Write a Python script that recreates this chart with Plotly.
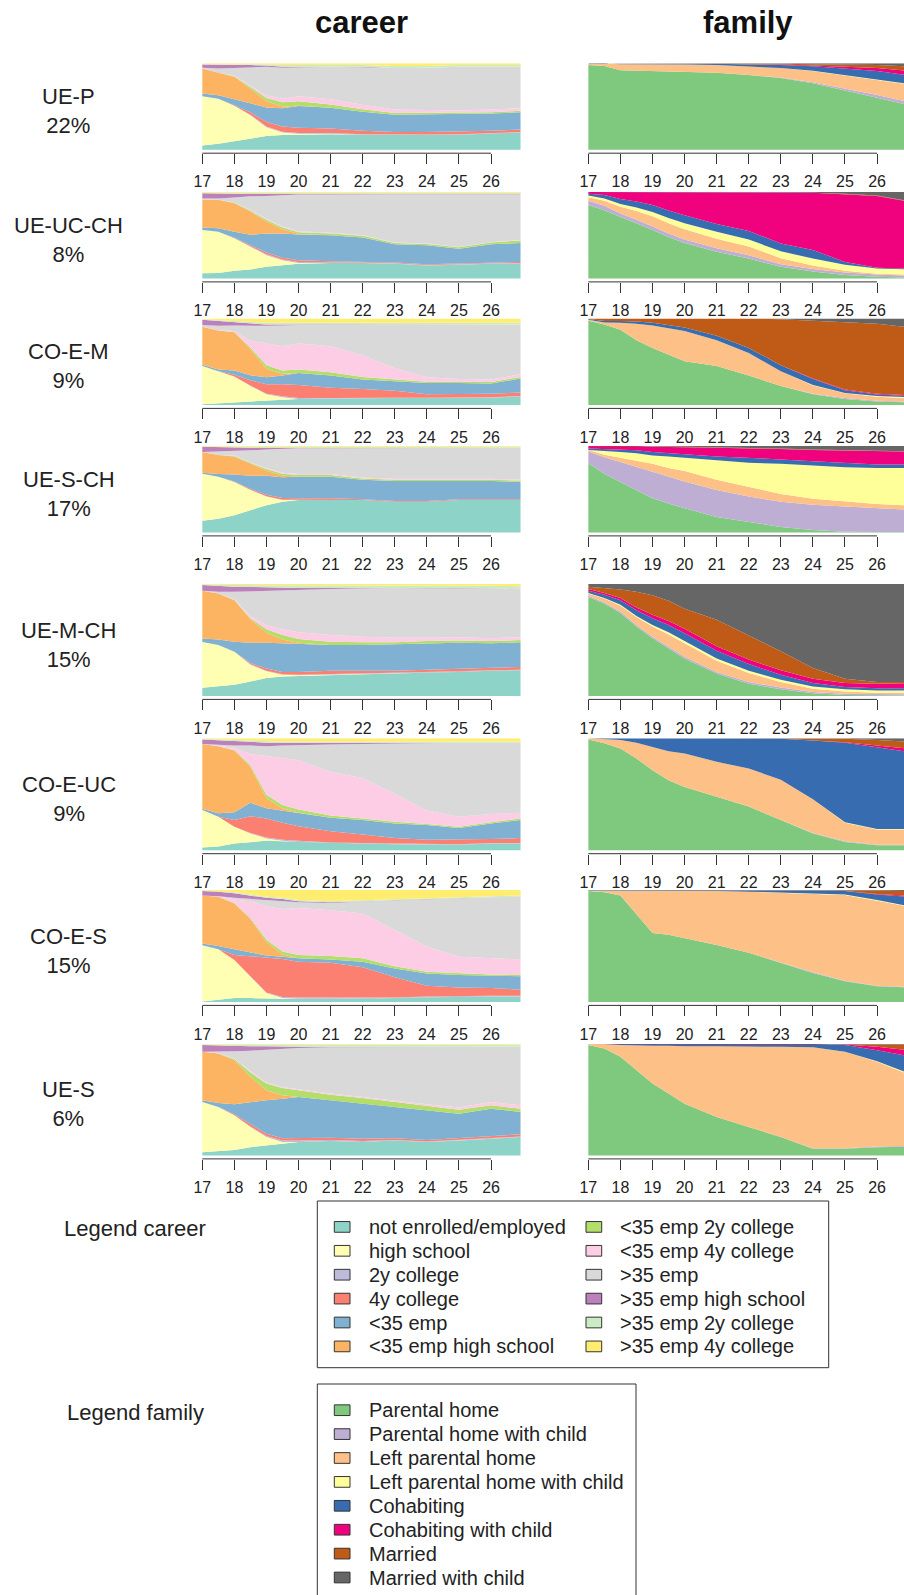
import plotly.graph_objects as go

W, H = 904, 1595
FONT = "Liberation Sans, Arial, Helvetica, sans-serif"
TXT = "#222222"
AXC = "#333333"

# ---------------- data ----------------
AGES = [17, 17.5, 18, 18.5, 19, 19.5, 20, 21, 22, 23, 24, 25, 26, 26.92]
TICK_AGES = [17, 18, 19, 20, 21, 22, 23, 24, 25, 26]
TICK_LABELS = ["17", "18", "19", "20", "21", "22", "23", "24", "25", "26"]

CAREER_STATES = ["not enrolled/employed", "high school", "2y college", "4y college",
                 "<35 emp", "<35 emp high school", "<35 emp 2y college", "<35 emp 4y college",
                 ">35 emp", ">35 emp high school", ">35 emp 2y college", ">35 emp 4y college"]
CAREER_COLORS = ["#8DD3C7", "#FFFFB3", "#BEBADA", "#FB8072", "#80B1D3", "#FDB462",
                 "#B3DE69", "#FCCDE5", "#D9D9D9", "#BC80BD", "#CCEBC5", "#FFED6F"]
FAMILY_STATES = ["Parental home", "Parental home with child", "Left parental home",
                 "Left parental home with child", "Cohabiting", "Cohabiting with child",
                 "Married", "Married with child"]
FAMILY_COLORS = ["#7FC97F", "#BEAED4", "#FDC086", "#FFFF99", "#386CB0", "#F0027F",
                 "#BF5B17", "#666666"]

CLUSTER_NAMES = ["UE-P", "UE-UC-CH", "CO-E-M", "UE-S-CH", "UE-M-CH", "CO-E-UC", "CO-E-S", "UE-S"]
CLUSTER_SIZES = ["22%", "8%", "9%", "17%", "15%", "9%", "15%", "6%"]

# shares (%) per state (rows follow CAREER_STATES / FAMILY_STATES), per age in AGES
CAREER_UE_P = [
    [5, 7, 10, 13, 16, 17, 17.5, 18, 17.5, 17, 17, 17.5, 18.5, 20],
    [57, 52, 41, 27, 10, 3, 1, 0.5, 0, 0, 0, 0, 0, 0],
    [0, 0, 0, 0.5, 1, 1, 1, 1, 0.5, 0.5, 0.5, 0.5, 0.5, 0.5],
    [0, 0, 0.5, 3, 5, 6, 6, 5, 4, 3, 3, 3, 3, 3],
    [3, 4, 7, 10, 17, 21, 25, 24, 22, 20, 20, 20, 20, 20],
    [29, 26, 26, 17, 7, 2, 0.5, 0, 0, 0, 0, 0, 0, 0],
    [0, 0, 0.5, 2, 4, 5, 5, 4, 3, 2, 2, 1.5, 1.5, 1.5],
    [0, 0, 0.5, 2, 3, 4, 6, 6, 5, 4, 3, 3, 3, 3],
    [1, 5, 9, 21, 33, 36, 33.5, 37.5, 43.5, 48.5, 48.5, 50.5, 49.5, 48],
    [3.5, 4, 3.5, 2.5, 1.5, 1, 0.5, 0.5, 0.5, 0, 0, 0, 0, 0],
    [0.5, 1, 1, 1, 1.5, 2, 2, 2, 2, 2, 2, 2, 2, 2],
    [1, 1, 1, 1, 1, 2, 2, 1.5, 2, 3, 3, 2, 2, 2],
]
FAMILY_UE_P = [
    [98, 97, 92, 91.5, 91, 90.5, 90, 89, 86.5, 83, 77, 69, 60, 52],
    [0, 0, 0, 0, 0, 0, 0, 0, 0, 0.5, 1, 2, 3, 3.5],
    [2, 3, 7, 7.5, 8, 8, 8.5, 9, 10, 11, 13, 15, 18, 20],
    [0, 0, 0, 0, 0, 0, 0, 0, 0, 0, 0.5, 0.5, 0.5, 0.5],
    [0, 0, 0.5, 0.5, 0.5, 1, 1, 1.5, 2, 3.5, 5, 7, 9, 10],
    [0, 0, 0, 0, 0, 0, 0, 0, 0, 0.5, 1, 2.5, 3.5, 5],
    [0, 0, 0.5, 0.5, 0.5, 0.5, 0.5, 0.5, 1, 1, 1.5, 2.5, 3.5, 5],
    [0, 0, 0, 0, 0, 0, 0, 0, 0.5, 0.5, 1, 1.5, 2, 3.5],
]
CAREER_UE_UC_CH = [
    [6, 6.5, 9, 10.5, 13.5, 15.5, 17, 18, 18, 17, 15, 16, 17, 17],
    [50, 47.5, 37.5, 26.5, 13.5, 5.5, 1, 0, 0, 0, 0, 0, 0, 0],
    [0, 0, 0, 0.5, 1, 1, 1, 0.5, 0.5, 0.5, 0.5, 0.5, 0.5, 0.5],
    [0, 0, 0.5, 1, 2, 2, 2, 1.5, 1, 1, 1, 1, 1, 1.5],
    [3, 4, 7, 12, 22, 28, 30, 30, 28, 21, 22, 17, 21, 22],
    [32, 33, 33, 27, 14, 5, 0.5, 0, 0, 0, 0, 0, 0, 0],
    [0, 0, 0.5, 1, 2, 2, 2, 2, 2, 1.5, 1.5, 1.5, 2, 3],
    [0, 0, 0.5, 1, 1, 1, 1, 1, 0.5, 0.5, 0.5, 0.5, 0.5, 0.5],
    [1.5, 1.5, 5.5, 15.5, 26.5, 36.5, 42.5, 44, 47.5, 56, 57, 61, 55.5, 53],
    [6, 5.5, 4.5, 3, 2.5, 1.5, 1, 1, 0.5, 0.5, 0.5, 0.5, 0.5, 0.5],
    [0.5, 1, 1, 1, 1, 1, 1, 1, 1, 1, 1, 1, 1, 1],
    [1, 1, 1, 1, 1, 1, 1, 1, 1, 1, 1, 1, 1, 1],
]
FAMILY_UE_UC_CH = [
    [85, 79, 71, 64, 56, 48, 41, 31, 23, 13.5, 8, 4, 2, 1],
    [5, 5, 4, 4, 4, 4, 4, 4, 4, 3, 3, 3, 2.5, 2.5],
    [4, 6, 8, 10, 12, 12, 12, 11, 10, 7, 4, 2, 1, 1],
    [2, 2.5, 3, 4, 5, 6, 7, 8, 8, 8, 8, 7, 6, 6],
    [2, 4, 6, 7, 8, 8.5, 9, 9, 10, 9, 10, 3, 1, 1],
    [2, 3.5, 8, 11, 15, 21.5, 27, 37, 45, 59, 66, 78.5, 83, 78],
    [0, 0, 0, 0, 0, 0, 0, 0, 0, 0, 0, 0.5, 0.5, 0.5],
    [0, 0, 0, 0, 0, 0, 0, 0, 0, 0.5, 1, 2, 4, 10],
]
CAREER_CO_E_M = [
    [1, 2, 3, 4, 5, 6, 7, 7.5, 8, 8, 8, 8, 8.5, 10],
    [44, 37, 30, 18, 7.5, 3, 0, 0, 0, 0, 0, 0, 0, 0],
    [0, 0, 0, 0.5, 0.5, 1, 1, 0.5, 0.5, 0.5, 0.5, 0.5, 0.5, 0.5],
    [0, 0, 2, 6, 11, 14, 15, 12, 10, 8, 4, 4, 4, 4],
    [1.5, 2, 5, 6, 8, 10, 14, 14, 11, 11, 13, 13, 12, 16],
    [44, 45, 44, 30, 10, 2, 0, 0, 0, 0, 0, 0, 0, 0],
    [0, 0, 0.5, 2, 4, 4, 4, 4, 3, 2, 1.5, 1.5, 1.5, 2],
    [0, 0.5, 1, 8, 25, 28, 30, 30, 25, 13, 5, 3, 3, 3],
    [2, 5, 6.5, 17, 20.5, 24, 21.5, 24.5, 35, 50.5, 61, 63, 63.5, 57.5],
    [6, 5.5, 4, 3, 1.5, 1, 0.5, 0.5, 0.5, 0, 0, 0, 0, 0],
    [0.5, 1, 1, 1.5, 2, 2, 2, 2, 2, 2, 2, 2, 2, 2],
    [1, 2, 3, 4, 5, 5, 5, 5, 5, 5, 5, 5, 5, 5],
]
FAMILY_CO_E_M = [
    [97.5, 93, 87, 75, 66, 58, 50.5, 45, 34, 22, 12.5, 7, 4, 3],
    [0, 0, 0, 0, 0, 0, 0, 0, 0, 0, 0.5, 1, 1, 1],
    [1, 2.5, 8, 19, 26, 31, 35, 30, 26, 17, 9.5, 5.5, 4.5, 4],
    [0, 0, 0, 0, 0, 0, 0, 0, 0, 0, 0.5, 0.5, 1, 1],
    [1, 1.5, 2, 2.5, 3, 3.5, 4, 5, 6, 7, 7, 3, 1.5, 1.5],
    [0, 0, 0, 0, 0, 0, 0, 0, 0, 0, 0.5, 1, 1, 1],
    [0.5, 3, 3, 3.5, 5, 7.5, 10.5, 20, 34, 53, 67, 78, 81, 78.5],
    [0, 0, 0, 0, 0, 0, 0, 0, 0, 1, 2.5, 4, 6, 10],
]
CAREER_UE_S_CH = [
    [13.5, 16, 20, 26, 31.5, 35.5, 37.5, 38, 37.5, 35.5, 35.5, 37.5, 37.5, 37.5],
    [54.5, 48.5, 38.5, 23, 10, 2, 0, 0, 0, 0, 0, 0, 0, 0],
    [0, 0, 0, 0.5, 0.5, 0.5, 0.5, 0, 0, 0, 0, 0, 0, 0],
    [0, 0, 0.5, 1, 1.5, 2, 1.5, 1.5, 1, 1, 1, 1, 1, 1],
    [1, 3, 8, 15, 22, 24, 25, 25, 22.5, 23, 23, 21, 21, 20],
    [24, 22, 21, 14, 6, 2, 0, 0, 0, 0, 0, 0, 0, 0],
    [0, 0, 0.5, 1, 2, 2, 2, 2, 1.5, 1.5, 1.5, 1.5, 1.5, 1.5],
    [0, 0, 0.5, 0.5, 1, 1, 1, 1, 1, 1, 1, 1, 1, 1],
    [0, 4, 5.5, 14, 21.5, 28, 30, 30, 34, 35.5, 36, 36, 36, 37],
    [6, 5, 4, 3, 2, 1, 0.5, 0.5, 0.5, 0.5, 0, 0, 0, 0],
    [0.5, 0.5, 0.5, 1, 1, 1, 1, 1, 1, 1, 1, 1, 1, 1],
    [0.5, 1, 1, 1, 1, 1, 1, 1, 1, 1, 1, 1, 1, 1],
]
FAMILY_UE_S_CH = [
    [80, 68, 58.5, 49, 39.5, 33.5, 28, 18, 12.5, 6.5, 3, 1, 0.5, 0.5],
    [13.5, 19, 23, 27, 31, 31, 31, 31, 29, 29, 29, 29, 27.5, 26],
    [2, 3, 5, 7, 9, 10, 12, 12, 11, 9, 7, 6, 5, 5],
    [0, 4.5, 6.5, 8.5, 9.5, 13.5, 15.5, 22, 28, 35, 38.5, 39.5, 41.5, 43],
    [1.5, 2, 3, 3.5, 4, 4, 4, 5, 6, 5, 5, 5, 4, 4],
    [3, 3.5, 4, 5, 6, 7, 8, 10, 11, 12, 13, 14, 15, 15],
    [0, 0, 0, 0, 0.5, 0.5, 0.5, 0.5, 0.5, 0.5, 0.5, 0.5, 0.5, 0.5],
    [0, 0, 0, 0, 0.5, 0.5, 1, 1.5, 2, 3, 4, 5, 6, 6],
]
CAREER_UE_M_CH = [
    [7.5, 8.5, 10, 13, 16, 17.5, 18, 19, 19.5, 20, 21, 21.5, 22.5, 23],
    [41, 37, 29.5, 15, 6, 1.5, 0.5, 0, 0, 0, 0, 0, 0, 0],
    [0, 0, 0, 0.5, 0.5, 0.5, 0.5, 0.5, 0.5, 0.5, 0.5, 0.5, 0.5, 0.5],
    [0, 0, 0, 1, 2, 2, 2.5, 3, 2.5, 2, 2, 2.5, 2, 2.5],
    [3, 5, 9, 18, 23, 25.5, 25.5, 23, 23, 23.5, 23.5, 23, 22, 22],
    [43, 41, 37, 21, 9, 3.5, 0.5, 0, 0, 0, 0, 0, 0, 0],
    [0, 0, 0.5, 1, 3, 4, 3.5, 3, 2.5, 2, 2, 2, 2, 2],
    [0, 0, 0.5, 2, 4, 5, 6, 6, 5, 4, 3, 3, 2.5, 2.5],
    [0, 1.5, 6.5, 22, 30.5, 35, 38, 41, 43, 44.5, 44.5, 44, 45, 43.5],
    [5, 5, 4.5, 4, 3, 2.5, 1.5, 1, 0.5, 0, 0, 0, 0, 0],
    [0.5, 1, 1.5, 1.5, 2, 2, 2, 2, 2, 2, 2, 2, 2, 2],
    [0.5, 1, 1, 1, 1, 1, 1.5, 1.5, 1.5, 1.5, 1.5, 1.5, 1.5, 2],
]
FAMILY_UE_M_CH = [
    [88.5, 82.5, 74, 62, 51.5, 42.5, 33.5, 20, 11, 6, 2.5, 1, 0.5, 0.5],
    [1, 1, 1.5, 1.5, 1.5, 1.5, 1.5, 1.5, 1.5, 1.5, 1, 1, 1, 1],
    [2, 3.5, 5, 7, 9, 11, 12, 10, 8, 5, 3, 2, 1.5, 1.5],
    [0.5, 0.5, 1, 1, 1.5, 2, 2, 2, 2, 2, 2, 2, 2, 2],
    [2, 3, 4, 5, 6, 6.5, 7, 7, 6, 4.5, 3, 2, 2, 2],
    [1.5, 1.5, 2, 2.5, 3, 3.5, 4, 4, 4, 4, 4, 3.5, 4, 4.5],
    [2, 4.5, 7.5, 14, 17.5, 18, 18, 23.5, 21.5, 17, 9.5, 4, 1.5, 1],
    [2.5, 3.5, 5, 7, 10, 15, 22, 32, 46, 60, 75, 84.5, 87.5, 87.5],
]
CAREER_CO_E_UC = [
    [2.5, 3.5, 6, 7.5, 8.5, 8, 7.5, 6.5, 6, 5.5, 5, 5, 6, 6],
    [33.5, 26.5, 15, 7.5, 2, 0.5, 0, 0, 0, 0, 0, 0, 0, 0],
    [0, 0, 0, 0.5, 1, 1, 1, 0.5, 0.5, 0.5, 0.5, 0.5, 0.5, 0.5],
    [0, 0, 6, 15, 17, 15, 13, 10, 7.5, 5, 4, 4, 3.5, 4.5],
    [1, 3, 7, 12, 9, 11, 12, 12, 13, 13, 13, 10.5, 14, 16],
    [58, 60, 55, 32, 9, 2, 0, 0, 0, 0, 0, 0, 0, 0],
    [0, 0, 0.5, 1.5, 3, 3, 3, 2, 1.5, 1.5, 1, 1, 1, 1.5],
    [0, 0, 2, 10, 35, 42, 44, 39, 36, 25, 12, 9, 7.5, 5],
    [0, 1, 2, 7.5, 8.5, 11, 13.5, 24.5, 30.5, 45, 60, 66, 63.5, 62.5],
    [4, 4, 4, 3.5, 3, 2.5, 2, 1.5, 1, 0.5, 0.5, 0, 0, 0],
    [0.5, 1, 1, 1, 1, 1, 1, 1, 1, 1, 1, 1, 1, 1],
    [0.5, 1, 1.5, 2, 3, 3, 3, 3, 3, 3, 3, 3, 3, 3],
]
FAMILY_CO_E_UC = [
    [99, 95.5, 91, 82, 71.5, 62.5, 56.5, 48, 39, 27, 15, 7.5, 4.5, 4.5],
    [0, 0, 0, 0, 0, 0, 0, 0, 0, 0, 0.5, 0.5, 0.5, 0.5],
    [1, 4, 7.5, 14, 21, 26, 30, 31, 34, 36, 30, 16.5, 13.5, 13.5],
    [0, 0, 0, 0, 0, 0, 0, 0, 0, 0, 0, 0.5, 0.5, 0.5],
    [0, 0.5, 1.5, 4, 7.5, 11.5, 13.5, 21, 26.5, 36.5, 52.5, 71, 73, 69],
    [0, 0, 0, 0, 0, 0, 0, 0, 0, 0, 0, 0.5, 1.5, 3],
    [0, 0, 0, 0, 0, 0, 0, 0, 0.5, 0.5, 2, 3, 5, 6],
    [0, 0, 0, 0, 0, 0, 0, 0, 0, 0, 0, 0.5, 1.5, 3],
]
CAREER_CO_E_S = [
    [0.5, 2, 3.5, 3.5, 3, 3, 3, 3, 3.5, 3.5, 4.5, 5, 5, 5],
    [50.5, 45, 34, 19, 5, 0.5, 0, 0, 0, 0, 0, 0, 0, 0],
    [0, 0, 0, 0.5, 0.5, 1, 1, 1, 0.5, 0.5, 0.5, 0.5, 0.5, 0.5],
    [0, 0, 4.5, 18, 31, 34, 32, 31, 27, 18, 9.5, 7.5, 7, 5.5],
    [1.5, 3, 5, 3, 2, 2, 3, 3, 5, 8, 11, 11, 11, 12],
    [43, 44, 41, 30, 12, 2, 0, 0, 0, 0, 0, 0, 0, 0],
    [0, 0, 0.5, 1, 2, 2.5, 3, 3, 3, 2, 1.5, 1.5, 1, 1],
    [0, 0.5, 3, 15, 30, 38, 42, 41, 40, 32, 22.5, 15, 15, 14],
    [0, 0, 1.5, 2, 5.5, 7.5, 5, 6.5, 11, 27, 42.5, 52.5, 54, 56],
    [4, 4, 4, 3, 2, 1.5, 1, 0.5, 0, 0, 0, 0, 0, 0],
    [0.5, 0.5, 1, 1, 1, 1, 1, 1, 1, 1, 1, 1, 1, 1],
    [0.5, 1, 2, 4, 6, 7, 9, 10, 9, 8, 7, 6, 5.5, 5],
]
FAMILY_CO_E_S = [
    [99, 98, 95, 78, 61.5, 60, 57, 51, 44, 35, 26, 18.5, 14, 13],
    [0, 0, 0, 0, 0, 0, 0, 0, 0, 0, 0.5, 0.5, 0.5, 0.5],
    [0.5, 1.5, 4, 21, 37.5, 39, 42, 48, 54.5, 62.5, 70.5, 76.5, 76, 72],
    [0, 0, 0, 0, 0, 0, 0, 0, 0, 0, 0, 0.5, 0.5, 0.5],
    [0.5, 0.5, 1, 1, 1, 1, 1, 1, 1.5, 2, 2.5, 3, 5, 8],
    [0, 0, 0, 0, 0, 0, 0, 0, 0, 0, 0, 0, 0.5, 1],
    [0, 0, 0, 0, 0, 0, 0, 0, 0, 0.5, 0.5, 1, 3, 4],
    [0, 0, 0, 0, 0, 0, 0, 0, 0, 0, 0, 0, 0.5, 1],
]
CAREER_UE_S = [
    [3, 4, 5, 7.5, 9, 10.5, 12, 13, 12, 13.5, 12, 13.5, 15, 16.5],
    [45, 39.5, 31, 18, 7.5, 1.5, 0, 0, 0, 0, 0, 0, 0, 0],
    [0, 0, 0, 0.5, 1, 1.5, 1.5, 1, 1, 0.5, 0.5, 0.5, 0.5, 0.5],
    [0, 0, 1, 2, 2, 2, 2, 2, 2, 1.5, 1.5, 1.5, 2, 2],
    [1.5, 3.5, 9, 20, 30, 35.5, 37, 33.5, 31.5, 28, 26.5, 22, 24.5, 20],
    [43.5, 44.5, 39.5, 22.5, 9, 3, 0, 0, 0, 0, 0, 0, 0, 0],
    [0, 0, 1, 4, 6, 6.5, 6, 5, 5, 4.5, 4, 3.5, 3, 3],
    [0, 0, 0.5, 1, 1, 1, 1, 1, 1, 1, 1.5, 2, 3, 3],
    [0, 1.5, 6.5, 18.5, 29.5, 34, 37, 41.5, 44.5, 48.5, 51.5, 54.5, 49.5, 52.5],
    [6, 5.5, 5, 4, 3, 2, 1, 0.5, 0.5, 0, 0, 0, 0, 0],
    [0.5, 1, 1, 1.5, 1.5, 2, 2, 2, 2, 2, 2, 2, 2, 2],
    [0.5, 0.5, 0.5, 0.5, 0.5, 0.5, 0.5, 0.5, 0.5, 0.5, 0.5, 0.5, 0.5, 0.5],
]
FAMILY_UE_S = [
    [99, 96, 88.5, 76.5, 64.5, 55.5, 46.5, 34.5, 25.5, 16.5, 6, 6, 7.5, 8],
    [0, 0, 0, 0, 0, 0, 0, 0, 0, 0, 0.5, 0.5, 0.5, 0.5],
    [1, 4, 10.5, 22, 34, 43, 51.5, 63.5, 72.5, 81, 90.5, 86.5, 76, 65],
    [0, 0, 0, 0, 0, 0, 0, 0, 0, 0, 0, 0, 0.5, 1],
    [0, 0, 1, 1.5, 1.5, 1.5, 2, 2, 2, 2.5, 3, 6, 10, 15],
    [0, 0, 0, 0, 0, 0, 0, 0, 0, 0, 0, 0.5, 3, 5],
    [0, 0, 0, 0, 0, 0, 0, 0, 0, 0, 0, 0.5, 2.5, 5],
    [0, 0, 0, 0, 0, 0, 0, 0, 0, 0, 0, 0, 0, 0.5],
]

CAREER_PANELS = [CAREER_UE_P, CAREER_UE_UC_CH, CAREER_CO_E_M, CAREER_UE_S_CH,
                 CAREER_UE_M_CH, CAREER_CO_E_UC, CAREER_CO_E_S, CAREER_UE_S]
FAMILY_PANELS = [FAMILY_UE_P, FAMILY_UE_UC_CH, FAMILY_CO_E_M, FAMILY_UE_S_CH,
                 FAMILY_UE_M_CH, FAMILY_CO_E_UC, FAMILY_CO_E_S, FAMILY_UE_S]

# ---------------- layout geometry (pixels) ----------------
ROW_TOPS = [63.3, 192.0, 318.5, 446.0, 584.0, 738.3, 890.0, 1044.0]
ROW_HEIGHTS = [86.5, 86.5, 86.5, 86.5, 112.0, 112.0, 112.0, 111.5]
AXIS_GAP = 3.4
PX_PER_YEAR = 32.08
X_START = 16.958
CAREER_LEFT = 200.95
FAMILY_LEFT = 587.0
CAREER_RANGE = [X_START, X_START + 10.0]
FAMILY_RANGE = [X_START, X_START + (W - FAMILY_LEFT) / PX_PER_YEAR]


def px(x):
    return x / W


def py(y):
    return 1 - y / H


def esc(s):
    return s.replace("<", "&lt;").replace(">", "&gt;")


fig = go.Figure()
layout = {}
shapes = []
annotations = []

for r in range(8):
    top = ROW_TOPS[r]
    h = ROW_HEIGHTS[r]
    bot = top + h
    gap = AXIS_GAP / h
    panels = [
        (CAREER_PANELS[r], CAREER_COLORS, CAREER_STATES, CAREER_LEFT, CAREER_LEFT + 10.0 * PX_PER_YEAR, CAREER_RANGE),
        (FAMILY_PANELS[r], FAMILY_COLORS, FAMILY_STATES, FAMILY_LEFT, W, FAMILY_RANGE),
    ]
    for c, (data, colors, names, left, right, xr) in enumerate(panels):
        n = 2 * r + c + 1
        xa = "x" if n == 1 else f"x{n}"
        ya = "y" if n == 1 else f"y{n}"
        for vals, col, name in zip(data, colors, names):
            fig.add_trace(go.Scatter(
                x=AGES, y=vals, name=name, xaxis=xa, yaxis=ya,
                stackgroup=f"g{n}", groupnorm="fraction",
                mode="lines", line=dict(width=0, color=col), fillcolor=col,
                showlegend=False, hoverinfo="skip"))
        layout["xaxis" if n == 1 else f"xaxis{n}"] = dict(
            domain=[px(left), min(1.0, px(right))], range=xr, anchor=ya,
            tickmode="array", tickvals=TICK_AGES, ticktext=TICK_LABELS,
            ticks="outside", ticklen=10, tickwidth=1, tickcolor=AXC,
            ticklabelstandoff=4,
            tickfont=dict(family=FONT, size=16, color=TXT),
            showgrid=False, zeroline=False, showline=False, fixedrange=True,
            automargin=False)
        layout["yaxis" if n == 1 else f"yaxis{n}"] = dict(
            domain=[py(bot + AXIS_GAP), py(top)], range=[-gap, 1], anchor=xa,
            visible=False, showgrid=False, zeroline=False, fixedrange=True)
        shapes.append(dict(type="line", xref=xa, yref=f"{ya} domain",
                           x0=TICK_AGES[0], x1=TICK_AGES[-1], y0=0, y1=0,
                           line=dict(color=AXC, width=1)))
    annotations.append(dict(
        x=px(68.5), y=py(top + h / 2 + 4.5), xref="paper", yref="paper",
        text=f"{CLUSTER_NAMES[r]}<br>{CLUSTER_SIZES[r]}", showarrow=False,
        xanchor="center", yanchor="middle", align="center",
        font=dict(family=FONT, size=22, color=TXT)))

# column titles
for label, xc in [("career", 361.3), ("family", 748.0)]:
    annotations.append(dict(x=px(xc), y=py(22.5), xref="paper", yref="paper",
                            text=f"<b>{label}</b>", showarrow=False,
                            xanchor="center", yanchor="middle",
                            font=dict(family=FONT, size=31, color="#111111")))

# ---------------- legends ----------------
ROW_STEP = 23.9
SW_W, SW_H = 15.7, 10.7


def legend_block(states, colors, title, title_y, box, first_y, col_x, per_col):
    annotations.append(dict(x=px(135.3), y=py(title_y), xref="paper", yref="paper",
                            text=title, showarrow=False, xanchor="center", yanchor="middle",
                            font=dict(family=FONT, size=22, color=TXT)))
    x0, y0, x1, y1 = box
    shapes.append(dict(type="rect", xref="paper", yref="paper",
                       x0=px(x0), x1=px(x1), y0=py(y1), y1=py(y0),
                       line=dict(color=AXC, width=1), fillcolor="rgba(0,0,0,0)"))
    for i, (s, col) in enumerate(zip(states, colors)):
        ci, ri = divmod(i, per_col)
        yc = first_y + ri * ROW_STEP
        sx = col_x[ci]
        shapes.append(dict(type="rect", xref="paper", yref="paper",
                           x0=px(sx), x1=px(sx + SW_W),
                           y0=py(yc + SW_H / 2), y1=py(yc - SW_H / 2),
                           line=dict(color=AXC, width=1), fillcolor=col))
        annotations.append(dict(x=px(sx + 32.4), y=py(yc), xref="paper", yref="paper",
                                text=esc(s), showarrow=False, xanchor="left", yanchor="middle",
                                font=dict(family=FONT, size=20, color=TXT)))


legend_block(CAREER_STATES, CAREER_COLORS, "Legend career", 1228.3,
             (317.3, 1201.0, 828.7, 1367.7), 1226.9, [334.3, 586.0], 6)
legend_block(FAMILY_STATES, FAMILY_COLORS, "Legend family", 1412.7,
             (317.3, 1384.0, 636.0, 1605.0), 1410.2, [334.3], 8)

fig.update_layout(
    width=W, height=H, margin=dict(l=0, r=0, t=0, b=0),
    paper_bgcolor="white", plot_bgcolor="white",
    showlegend=False, shapes=shapes, annotations=annotations,
    font=dict(family=FONT, color=TXT), **layout)

fig.write_html("out.html",
               config={"displayModeBar": False},
               post_script="document.body.style.margin='0px';document.body.style.padding='0px';")
